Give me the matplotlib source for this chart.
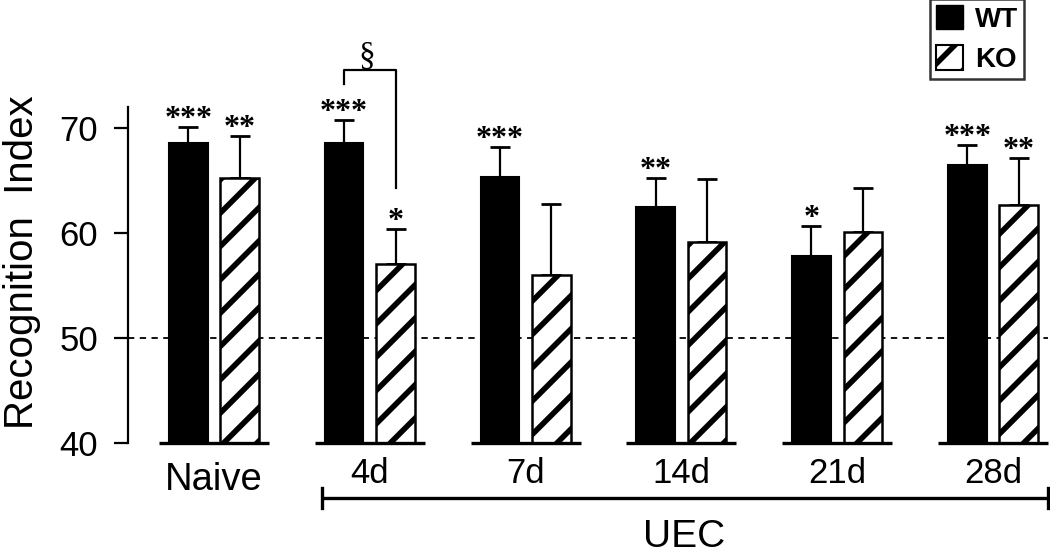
import matplotlib
matplotlib.use("Agg")
import matplotlib.pyplot as plt
from matplotlib.patches import Patch
import numpy as np

groups = ["Naive", "4d", "7d", "14d", "21d", "28d"]
wt_mean = [68.6, 68.6, 65.35, 62.45, 57.85, 66.5]
wt_sem = [1.5, 2.2, 2.8, 2.8, 2.85, 1.85]
ko_mean = [65.25, 57.05, 56.0, 59.1, 60.05, 62.65]
ko_sem = [4.0, 3.35, 6.8, 6.05, 4.25, 4.5]
wt_sig = ["***", "***", "***", "**", "*", "***"]
ko_sig = ["**", "*", "", "", "", "**"]
series_labels = ["WT", "KO"]
y_ticks = [40, 50, 60, 70]

plt.rcParams['hatch.linewidth'] = 4.0
SANS = "Liberation Sans"
SERIF = "Liberation Serif"

fig = plt.figure(figsize=(10.5, 5.57), dpi=100)
ax = fig.add_axes([128/1050, 114/557, 920/1050, 336/557])

x = np.arange(len(groups))
off = 0.165
bw = 0.247

ax.axhline(50, color="black", lw=1.3, ls=(0, (3.5, 3.0)), zorder=1)

ax.bar(x - off, wt_mean, bw, color="black", edgecolor="black",
       linewidth=1.5, zorder=3)
ax.bar(x + off, ko_mean, bw, color="white", edgecolor="black", hatch="/",
       linewidth=1.8, zorder=3)
ax.errorbar(x - off, wt_mean, yerr=[np.zeros(len(x)), wt_sem], fmt="none",
            ecolor="black", elinewidth=1.6, capsize=7.5, capthick=2.0, zorder=2)
ax.errorbar(x + off, ko_mean, yerr=[np.zeros(len(x)), ko_sem], fmt="none",
            ecolor="black", elinewidth=1.6, capsize=7.5, capthick=2.0, zorder=2)

star_kw = dict(textcoords="offset points", ha="center", va="baseline",
               fontsize=23, family=SERIF, weight="bold", annotation_clip=False)
for xi, m, e, s in zip(x - off, wt_mean, wt_sem, wt_sig):
    if s:
        ax.annotate(s, (xi, m + e), xytext=(0, 0), **star_kw)
for xi, m, e, s in zip(x + off, ko_mean, ko_sem, ko_sig):
    if s:
        ax.annotate(s, (xi, m + e), xytext=(0, 0), **star_kw)

# group baselines
for xi in x:
    ax.plot([xi - 0.353, xi + 0.353], [40, 40], color="black", lw=2.4,
            clip_on=False, solid_capstyle="butt", zorder=4)

# significance bracket (4d WT vs KO)
bx0, bx1 = 1 - off, 1 + off
ax.plot([bx0, bx0, bx1, bx1], [74.15, 75.5, 75.5, 64.3], color="black",
        lw=1.6, clip_on=False)
ax.text((bx0 + bx1) / 2 - 0.02, 76.0, "§", ha="center", va="baseline",
        fontsize=24, family=SERIF)

ax.set_xlim(-0.552, 5.353)
ax.set_ylim(40, 72)
ax.set_yticks(y_ticks)
ax.set_xticks([])
for sp in ["top", "right", "bottom"]:
    ax.spines[sp].set_visible(False)
ax.spines["left"].set_linewidth(1.6)
ax.tick_params(axis="y", length=10, width=1.6, pad=11.5, labelsize=25)
for lab in ax.get_yticklabels():
    lab.set_family(SANS)

ax.set_ylabel("Recognition  Index", fontsize=29, family=SANS)
ax.yaxis.set_label_coords(-0.0946, 0.539)

# group labels
xt = ax.get_xaxis_transform()
for i, g in enumerate(groups):
    if i == 0:
        ax.text(x[i], -0.140, g, transform=xt, ha="center", va="baseline",
                fontsize=27.5, family=SANS)
    else:
        ax.text(x[i], -0.118, g, transform=xt, ha="center", va="baseline",
                fontsize=25, family=SANS)

# UEC bracket
ly = -0.1637
ax.plot([0.69, 5.35], [ly, ly], transform=xt, color="black", lw=2.4,
        clip_on=False, solid_capstyle="butt")
for ex in (0.69, 5.35):
    ax.plot([ex, ex], [ly - 0.03, ly + 0.03], transform=xt, color="black",
            lw=2.4, clip_on=False)
ax.text(3.02, -0.310, "UEC", transform=xt, ha="center", va="baseline",
        fontsize=28, family=SANS)

handles = [Patch(facecolor="black", edgecolor="black"),
           Patch(facecolor="white", edgecolor="black", hatch="/", linewidth=1.5)]
leg = fig.legend(handles, series_labels, loc="upper right",
                 bbox_to_anchor=(1024/1050, 1.0 + 1/557),
                 prop={"family": SANS, "weight": "bold", "size": 20},
                 frameon=True, fancybox=False, handlelength=0.97,
                 handleheight=0.97, handletextpad=0.43, labelspacing=0.45,
                 borderpad=0.22, borderaxespad=0.0)
leg.get_frame().set_edgecolor("black")
leg.get_frame().set_linewidth(1.8)

fig.savefig("out.png", dpi=100)
